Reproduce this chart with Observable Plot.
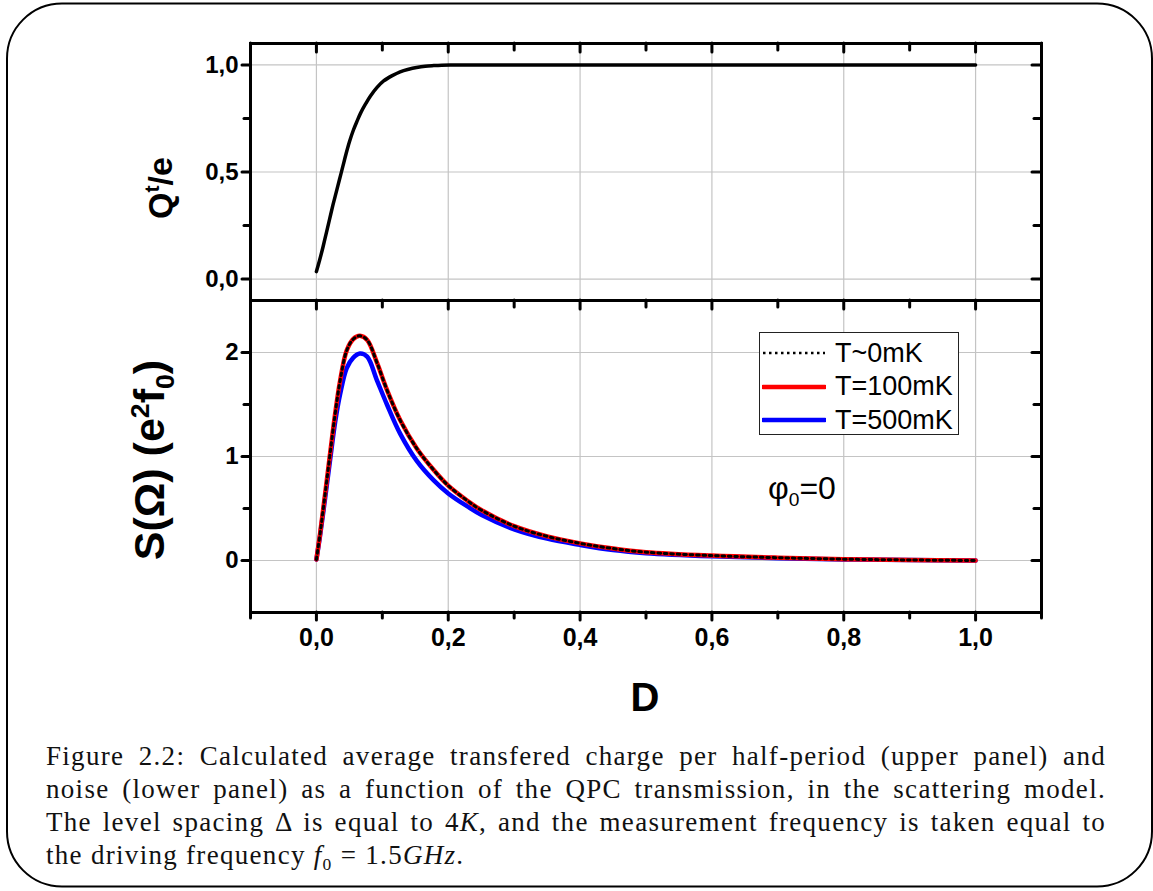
<!DOCTYPE html>
<html><head><meta charset="utf-8">
<script src="https://cdn.jsdelivr.net/npm/d3@7"></script>
<script src="https://cdn.jsdelivr.net/npm/@observablehq/plot@0.6"></script>
<style>
body{margin:0;background:#fff;}
#wrap{position:relative;width:1153px;height:891px;overflow:hidden;font-family:"Liberation Sans",Arial,sans-serif;}
#wrap svg.border{position:absolute;left:0;top:0;}
.pl{position:absolute;left:0;}
.ylab{position:absolute;font-weight:bold;white-space:nowrap;transform:translate(-50%,-50%) rotate(-90deg);}
.ylab sup,.ylab sub{font-size:62%;}
#xlab{position:absolute;font-weight:bold;font-size:40px;transform:translate(-50%,-50%);}
#legend{position:absolute;left:759px;top:332px;width:200px;height:103px;border:1.5px solid #222;box-sizing:border-box;background:#fff;}
.lrow{position:absolute;left:0;height:34px;display:flex;align-items:center;font-size:27px;}
.lrow svg{margin-left:2px;margin-right:9px;}
#phi{position:absolute;left:768px;top:470px;font-size:32px;}
#phi sub{font-size:60%;}
#cap{position:absolute;left:46px;top:740px;width:1060px;font-family:"Liberation Serif","Times New Roman",serif;font-size:27px;letter-spacing:1.3px;line-height:33px;color:#111;}
#cap div{white-space:nowrap;}
#cap .j{text-align:justify;text-align-last:justify;}
</style></head><body><div id="wrap"></div>
<script>
// ---- data ----
const D_Q = [0, 0.005, 0.01, 0.015, 0.02, 0.025, 0.03, 0.035, 0.04, 0.045, 0.05, 0.056, 0.062, 0.067, 0.075, 0.082, 0.092, 0.102, 0.115, 0.127, 0.14, 0.152, 0.165, 0.178, 0.19, 0.203, 0.25, 0.4, 0.6, 0.8, 1.0];
const Q_T = [0.035, 0.09, 0.15, 0.215, 0.28, 0.345, 0.405, 0.465, 0.525, 0.585, 0.64, 0.695, 0.74, 0.775, 0.82, 0.855, 0.895, 0.925, 0.95, 0.968, 0.98, 0.988, 0.994, 0.997, 0.999, 1.0, 1.0, 1.0, 1.0, 1.0, 1.0];

const D_S    = [0, 0.0056, 0.0132, 0.0208, 0.0284, 0.036, 0.046, 0.056, 0.066, 0.077, 0.092, 0.107, 0.127, 0.152, 0.178, 0.2, 0.229, 0.25, 0.3, 0.35, 0.4, 0.45, 0.5, 0.6, 0.7, 0.8, 0.9, 1.0];
const S_T0   = [0.01, 0.26, 0.64, 1.03, 1.41, 1.73, 2.02, 2.13, 2.16, 2.12, 1.90, 1.64, 1.35, 1.08, 0.87, 0.72, 0.575, 0.485, 0.33, 0.232, 0.165, 0.115, 0.08, 0.047, 0.027, 0.013, 0.005, 0.0];
const S_T100 = [0.01, 0.26, 0.64, 1.03, 1.41, 1.73, 2.02, 2.13, 2.16, 2.12, 1.90, 1.64, 1.35, 1.08, 0.87, 0.72, 0.575, 0.485, 0.33, 0.232, 0.165, 0.115, 0.08, 0.047, 0.027, 0.013, 0.005, 0.0];
const S_T500 = [0.01, 0.24, 0.60, 0.97, 1.33, 1.60, 1.85, 1.95, 1.99, 1.96, 1.73, 1.50, 1.22, 0.96, 0.77, 0.645, 0.52, 0.44, 0.30, 0.21, 0.15, 0.10, 0.07, 0.04, 0.022, 0.01, 0.004, 0.0];

const seriesNames = ["T~0mK", "T=100mK", "T=500mK"];
const xMajor = [0, 0.2, 0.4, 0.6, 0.8, 1.0];
const xMinor = [-0.1, 0.1, 0.3, 0.5, 0.7, 0.9, 1.1];
const qMajor = [0, 0.5, 1.0];
const qMinor = [0.25, 0.75];
const sMajor = [0, 1, 2];
const sMinor = [-0.5, 0.5, 1.5, 2.5];

// ---- layout ----
const W = 1153, ML = 250, MR = 112;
const PW = W - ML - MR;
const fmt1 = d => d.toFixed(1).replace(".", ",");
const font = "Liberation Sans, Arial, sans-serif";
const gridStyle = {stroke: "#c4c4c4", strokeWidth: 1.2};
const tickStyle = {strokeWidth: 3, strokeLinecap: "round", stroke: "black"};

const topData = D_Q.map((d, i) => ({D: d, Q: Q_T[i]}));
const sData = D_S.map((d, i) => ({D: d, s0: S_T0[i], s100: S_T100[i], s500: S_T500[i]}));

const wrap = document.getElementById("wrap");

// tick helpers (positions come from the scales; insets only set the tick length)
const leftTicks = (vals, len) => Plot.tickY(vals, {y: d => d, insetLeft: -len, insetRight: PW, ...tickStyle});
const rightTicks = (vals, len) => Plot.tickY(vals, {y: d => d, insetLeft: PW - len, ...tickStyle});
const topTicks = (vals, len, ph) => Plot.tickX(vals, {x: d => d, insetBottom: ph - len, ...tickStyle});
const bottomOutTicks = (vals, len, ph) => Plot.tickX(vals, {x: d => d, insetTop: ph, insetBottom: -len, ...tickStyle});

// Top panel
const TH = 300, TT = 43;
const topPH = TH - TT;
const topPlot = Plot.plot({
  width: W, height: TH, marginLeft: ML, marginRight: MR, marginTop: TT, marginBottom: 0,
  x: {domain: [-0.1, 1.1], axis: null},
  y: {domain: [-0.1, 1.1], axis: null},
  style: {fontFamily: font, background: "transparent", overflow: "visible"},
  marks: [
    Plot.ruleX(xMajor, {x: d => d, ...gridStyle}),
    Plot.ruleY(qMajor, {y: d => d, ...gridStyle}),
    Plot.line(topData, {x: "D", y: "Q", stroke: "black", strokeWidth: 3.5, curve: "catmull-rom"}),
    leftTicks(qMajor, 8),
    leftTicks(qMinor, 6),
    Plot.text(qMajor, {y: d => d, text: fmt1, frameAnchor: "left", textAnchor: "end", dx: -12, fontSize: 24, fontWeight: "bold", fill: "black", letterSpacing: 0.5}),
    rightTicks(qMajor, 9),
    rightTicks(qMinor, 7),
    topTicks(xMajor, 9, topPH),
    topTicks(xMinor, 7, topPH),
    Plot.frame({stroke: "black", strokeWidth: 3})
  ]
});
topPlot.classList.add("pl");
topPlot.style.top = "0px";
wrap.appendChild(topPlot);

// Bottom panel
const BH = 420, BB = 108;
const botPH = BH - BB;
const botPlot = Plot.plot({
  width: W, height: BH, marginLeft: ML, marginRight: MR, marginTop: 0, marginBottom: BB,
  x: {domain: [-0.1, 1.1], axis: null},
  y: {domain: [-0.5, 2.5], axis: null},
  style: {fontFamily: font, background: "transparent", overflow: "visible"},
  marks: [
    Plot.ruleX(xMajor, {x: d => d, ...gridStyle}),
    Plot.ruleY(sMajor, {y: d => d, ...gridStyle}),
    Plot.line(sData, {x: "D", y: "s500", stroke: "#0000ff", strokeWidth: 4.5, curve: "catmull-rom"}),
    Plot.line(sData, {x: "D", y: "s100", stroke: "#ff0000", strokeWidth: 4.5, curve: "catmull-rom"}),
    Plot.line(sData, {x: "D", y: "s0", stroke: "black", strokeWidth: 3, strokeDasharray: "2.6 3.8", curve: "catmull-rom"}),
    leftTicks(sMajor, 8),
    leftTicks([0.5, 1.5], 6),
    Plot.text(sMajor, {y: d => d, text: d => String(d), frameAnchor: "left", textAnchor: "end", dx: -12, fontSize: 24, fontWeight: "bold", fill: "black"}),
    rightTicks(sMajor, 9),
    rightTicks(sMinor, 7),
    topTicks(xMajor, 9, botPH),
    topTicks(xMinor, 7, botPH),
    bottomOutTicks(xMajor, 8, botPH),
    bottomOutTicks(xMinor, 6, botPH),
    Plot.text(xMajor, {x: d => d, text: fmt1, frameAnchor: "bottom", dy: 33, fontSize: 25, fontWeight: "bold", fill: "black", letterSpacing: 2}),
    Plot.frame({stroke: "black", strokeWidth: 3})
  ]
});
botPlot.classList.add("pl");
botPlot.style.top = "300px";
wrap.appendChild(botPlot);

// Rounded border
const ns = "http://www.w3.org/2000/svg";
const bsvg = document.createElementNS(ns, "svg");
bsvg.setAttribute("class", "border");
bsvg.setAttribute("width", W); bsvg.setAttribute("height", 891);
bsvg.style.pointerEvents = "none";
const rect = document.createElementNS(ns, "rect");
rect.setAttribute("x", 7); rect.setAttribute("y", 3.5);
rect.setAttribute("width", 1145); rect.setAttribute("height", 883);
rect.setAttribute("rx", 55); rect.setAttribute("ry", 55);
rect.setAttribute("fill", "none"); rect.setAttribute("stroke", "black"); rect.setAttribute("stroke-width", 2);
bsvg.appendChild(rect);
wrap.appendChild(bsvg);

// Axis labels
const ql = document.createElement("div");
ql.className = "ylab";
ql.style.left = "160px"; ql.style.top = "188px"; ql.style.fontSize = "34px";
ql.innerHTML = "Q<sup>t</sup>/e";
wrap.appendChild(ql);

const sl = document.createElement("div");
sl.className = "ylab";
sl.style.left = "153px"; sl.style.top = "460px"; sl.style.fontSize = "43px";
sl.innerHTML = "S(&Omega;) (e<sup>2</sup>f<sub>0</sub>)";
wrap.appendChild(sl);

const xl = document.createElement("div");
xl.id = "xlab"; xl.style.left = "645px"; xl.style.top = "697px";
xl.textContent = "D";
wrap.appendChild(xl);

// Legend
const legend = document.createElement("div");
legend.id = "legend";
const legStyles = [
  {stroke: "black", w: 2.5, dash: "2.5 3.5"},
  {stroke: "#ff0000", w: 4.5, dash: null},
  {stroke: "#0000ff", w: 4.5, dash: null}
];
seriesNames.forEach((name, i) => {
  const row = document.createElement("div");
  row.className = "lrow";
  row.style.top = (3 + i * 33.5) + "px";
  const st = legStyles[i];
  row.innerHTML = `<svg width="64" height="10"><line x1="1" y1="5" x2="63" y2="5" stroke="${st.stroke}" stroke-width="${st.w}" ${st.dash ? `stroke-dasharray="${st.dash}"` : 'stroke-linecap="round"'}/></svg><span>${name}</span>`;
  legend.appendChild(row);
});
wrap.appendChild(legend);

const phi = document.createElement("div");
phi.id = "phi";
phi.innerHTML = "&phi;<sub>0</sub>=0";
wrap.appendChild(phi);

// Caption
const cap = document.createElement("div");
cap.id = "cap";
cap.innerHTML = `<div class="j">Figure 2.2: Calculated average transfered charge per half-period (upper panel) and</div>
<div class="j">noise (lower panel) as a function of the QPC transmission, in the scattering model.</div>
<div class="j">The level spacing &Delta; is equal to 4<i>K</i>, and the measurement frequency is taken equal to</div>
<div>the driving frequency <i>f</i><sub style="font-size:65%">0</sub> = 1.5<i>GHz</i>.</div>`;
wrap.appendChild(cap);
</script>
</body></html>
